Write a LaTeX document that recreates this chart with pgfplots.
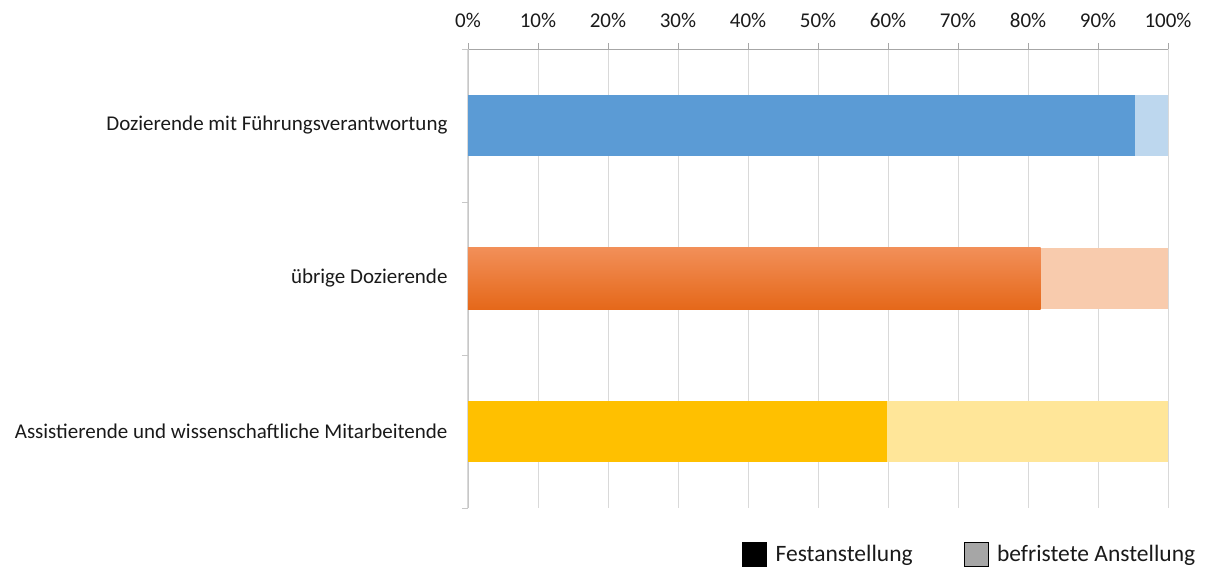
\documentclass[border=0pt]{standalone}
\usepackage{pgfplots}
\pgfplotsset{compat=1.18}
\usepackage{fontspec}
\setmainfont{Carlito}
\definecolor{blueA}{HTML}{5B9BD5}
\definecolor{blueB}{HTML}{BDD7EE}
\definecolor{orB}{HTML}{F8CBAD}
\definecolor{orTop}{HTML}{F28F58}
\definecolor{orBot}{HTML}{E5681A}
\definecolor{yeA}{HTML}{FFC000}
\definecolor{yeB}{HTML}{FFE699}
\definecolor{txt}{HTML}{1A1A1A}
\definecolor{gridc}{HTML}{D9D9D9}
\definecolor{axc}{HTML}{A6A6A6}
\begin{document}
\begin{tikzpicture}[x=1pt,y=1pt]
\path[use as bounding box] (0,0) rectangle (1205,570);
\begin{axis}[
  at={(468pt,62pt)}, anchor=south west,
  scale only axis, width=700pt, height=459pt,
  xbar stacked, bar width=0.4,
  xmin=0, xmax=100, ymin=-0.5, ymax=2.5,
  axis x line*=top, axis y line*=left,
  x axis line style={draw=axc, -},
  y axis line style={draw=gridc!80!gray, -},
  xtick={0,10,...,100},
  xticklabel={\pgfmathprintnumber{\tick}\%},
  xticklabel style={yshift=12pt},
  yticklabel style={xshift=-11pt},
  tick align=outside,
  major tick length=6pt, minor tick length=6pt,
  major x tick style={draw=axc},
  xmajorgrids, major x grid style={draw=gridc, line width=1pt},
  ytick={0,1,2},
  yticklabels={Assistierende und wissenschaftliche Mitarbeitende, übrige Dozierende, Dozierende mit Führungsverantwortung},
  major y tick style={draw=none},
  minor ytick={-0.5,0.5,1.5,2.5},
  minor y tick style={draw=gridc!80!gray},
  every tick label/.append style={font=\fontsize{21}{25}\selectfont, text=txt},
  /pgf/number format/assume math mode=true,
  legend style={at={(0.716,-0.1)}, anchor=center, draw=none, fill=none,
    legend columns=2, font=\fontsize{23.5}{28}\selectfont, text=txt,
    nodes={inner sep=1pt},
    /tikz/every even column/.append style={column sep=50pt}},
  legend image code/.code={\fill[#1] (0pt,-12pt) rectangle (24pt,12pt); \path (32pt,0pt);},
]
% Festanstellung
\addplot[fill=blueA, draw=none, forget plot] coordinates {(95.3,2) (0,1) (0,0)};
\addplot[top color=orTop, bottom color=orBot, draw=none, forget plot] coordinates {(0,2) (81.8,1) (0,0)};
\addplot[fill=yeA, draw=none, forget plot] coordinates {(0,2) (0,1) (59.9,0)};
% befristete Anstellung
\addplot[fill=blueB, draw=none, forget plot] coordinates {(4.7,2) (0,1) (0,0)};
\addplot[fill=orB, draw=none, forget plot] coordinates {(0,2) (18.2,1) (0,0)};
\addplot[fill=yeB, draw=none, forget plot] coordinates {(0,2) (0,1) (40.1,0)};
\addlegendimage{fill=black}
\addlegendentry{Festanstellung}
\addlegendimage{fill=black!35}
\addlegendentry{befristete Anstellung}
\end{axis}
\end{tikzpicture}
\end{document}
